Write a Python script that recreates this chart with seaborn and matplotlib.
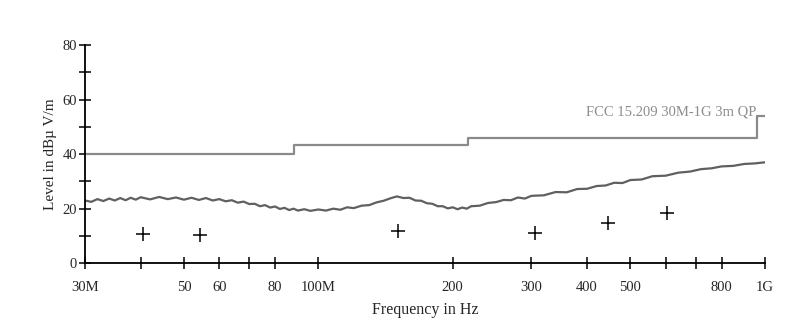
import matplotlib
matplotlib.use("Agg")
import matplotlib.pyplot as plt
import seaborn as sns
import pandas as pd
from matplotlib.ticker import FixedLocator, NullFormatter

# ── Data (MHz / dBuV/m) ─────────────────────────────────────────────────────
limit_freq = [30, 88, 216, 960, 1000]
limit_level = [40.0, 43.5, 46.0, 54.0, 54.0]

trace_freq = [30, 31, 32, 33, 34, 35, 36, 37, 38, 39, 40, 42, 44, 46, 48,
              50, 52, 54, 56, 58, 60, 62, 64, 66, 68, 70, 72, 74, 76, 78,
              80, 82, 84, 86, 88, 90, 93, 96, 100, 104, 108, 112, 116, 120,
              125, 130, 135, 140, 145, 150, 155, 160, 165, 170, 175, 180,
              185, 190, 195, 200, 205, 210, 215, 220, 230, 240, 250, 260,
              270, 280, 290, 300, 320, 340, 360, 380, 400, 420, 440, 460,
              480, 500, 530, 560, 600, 640, 680, 720, 760, 800, 850, 900,
              950, 1000]
trace_level = [23.0, 22.5, 23.5, 22.8, 23.7, 23.0, 23.9, 23.1, 24.0, 23.3,
               24.2, 23.4, 24.3, 23.5, 24.1, 23.3, 24.0, 23.2, 23.9, 23.0,
               23.5, 22.7, 23.1, 22.2, 22.6, 21.7, 21.8, 20.9, 21.3, 20.4,
               20.8, 19.9, 20.3, 19.5, 20.0, 19.3, 19.8, 19.2, 19.7, 19.3,
               20.0, 19.6, 20.5, 20.2, 21.1, 21.3, 22.3, 22.9, 23.8, 24.5,
               23.9, 24.0, 23.0, 22.9, 22.0, 21.8, 20.9, 20.9, 20.1, 20.5,
               19.8, 20.4, 20.0, 20.9, 21.1, 22.1, 22.4, 23.2, 23.1, 24.1,
               23.7, 24.7, 24.9, 26.1, 26.0, 27.2, 27.3, 28.3, 28.5, 29.5,
               29.4, 30.5, 30.7, 31.9, 32.1, 33.2, 33.6, 34.5, 34.8, 35.5,
               35.7, 36.4, 36.6, 37.0]

qp_freq = [40.5, 54.2, 150.5, 306.0, 445.0, 603.0]
qp_level = [10.7, 10.2, 11.8, 11.1, 14.7, 18.4]

x_ticks = [30, 40, 50, 60, 70, 80, 100, 200, 300, 400, 500, 600, 700, 800, 1000]
x_tick_labels = ["30M", "", "50", "60", "", "80", "100M", "200", "300",
                 "400", "500", "", "", "800", "1G"]
y_major = [0, 20, 40, 60, 80]
y_minor = [10, 30, 50, 70]

limit_df = pd.DataFrame({"freq": limit_freq, "level": limit_level})
trace_df = pd.DataFrame({"freq": trace_freq, "level": trace_level})
qp_df = pd.DataFrame({"freq": qp_freq, "level": qp_level})

# ── Plot ────────────────────────────────────────────────────────────────────
sns.set_theme(style="ticks")
plt.rcParams["font.family"] = ["Liberation Serif", "DejaVu Serif"]

fig = plt.figure(figsize=(7.86, 3.29), dpi=100)
ax = fig.add_axes([0.108, 0.200, 0.865, 0.663])

sns.lineplot(data=limit_df, x="freq", y="level", ax=ax, color="#8a8a8a",
             linewidth=1.6, drawstyle="steps-post", estimator=None, sort=False)
sns.lineplot(data=trace_df, x="freq", y="level", ax=ax, color="#606060",
             linewidth=1.6, estimator=None, sort=False)
sns.scatterplot(data=qp_df, x="freq", y="level", ax=ax, marker="+", s=100,
                color="black", linewidth=1.1, zorder=5)

ax.set_xscale("log")
ax.set_xlim(30, 1000)
ax.set_ylim(0, 80)

ax.xaxis.set_major_locator(FixedLocator(x_ticks))
ax.set_xticklabels(x_tick_labels)
ax.xaxis.set_minor_locator(FixedLocator([]))
ax.xaxis.set_minor_formatter(NullFormatter())
ax.set_yticks(y_major)
ax.yaxis.set_minor_locator(FixedLocator(y_minor))

ax.tick_params(axis="both", which="both", direction="inout", length=9,
               width=1.1, color="black", labelsize=10.5)
ax.tick_params(axis="x", pad=8)
ax.tick_params(axis="y", pad=1)

for side in ["top", "right"]:
    ax.spines[side].set_visible(False)
for side in ["left", "bottom"]:
    ax.spines[side].set_color("black")
    ax.spines[side].set_linewidth(1.3)

ax.text(960, 55.5, "FCC 15.209 30M-1G 3m QP", ha="right", va="center",
        fontsize=10.5, color="#8c8c8c")

ax.set_xlabel("Frequency in Hz", fontsize=11.5, labelpad=6)
ax.set_ylabel("Level in dBµ V/m", fontsize=11)

fig.savefig("out.png", dpi=100, facecolor="white")
